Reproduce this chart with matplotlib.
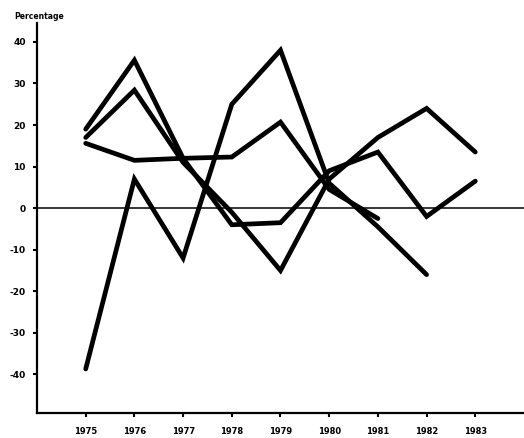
import numpy as np
import matplotlib
matplotlib.use("Agg")
import matplotlib.pyplot as plt

years = [1975, 1976, 1977, 1978, 1979, 1980, 1981, 1982, 1983]

# four series
series_a = [-38.7, 7, -12, 25, 38, 6, -4.5, -16]
series_b = [15.6, 11.5, 12, 12.3, 20.7, 4.5, -2.5]
series_c = [19, 35.6, 12, -4, -3.5, 9, 13.5, -2, 6.5]
series_d = [17, 28.4, 11, -1, -15, 7, 17, 24, 13.5]

y_ticks = [-40, -30, -20, -10, 0, 10, 20, 30, 40]

fig = plt.figure(figsize=(5.24, 4.38), dpi=100)
ax = fig.add_axes([0.0706, 0.057, 0.9294, 0.89])

for s in [series_a, series_b, series_c, series_d]:
    ax.plot(years[:len(s)], s, color="black", lw=3.4,
            solid_joinstyle="miter", solid_capstyle="round")

ax.axhline(0, color="black", lw=1.1)

ax.set_xlim(1974, 1984)
ax.set_ylim(-49.3, 44.5)
ax.set_xticks(years)
ax.set_xticklabels([str(y) for y in years], fontsize=6, fontweight="heavy")
ax.set_yticks(y_ticks)
ax.set_yticklabels([str(v) for v in y_ticks], fontsize=6.5, fontweight="heavy")

for side in ["top", "right"]:
    ax.spines[side].set_visible(False)
for side in ["left", "bottom"]:
    ax.spines[side].set_linewidth(1.6)
ax.tick_params(axis="both", direction="out", length=3, width=1.5)
ax.tick_params(axis="x", pad=7)
ax.tick_params(axis="y", pad=5)

fig.text(0.027, 0.962, "Percentage", fontsize=5.5, fontweight="heavy",
         ha="left", va="center")

fig.savefig("out.png", dpi=100)
